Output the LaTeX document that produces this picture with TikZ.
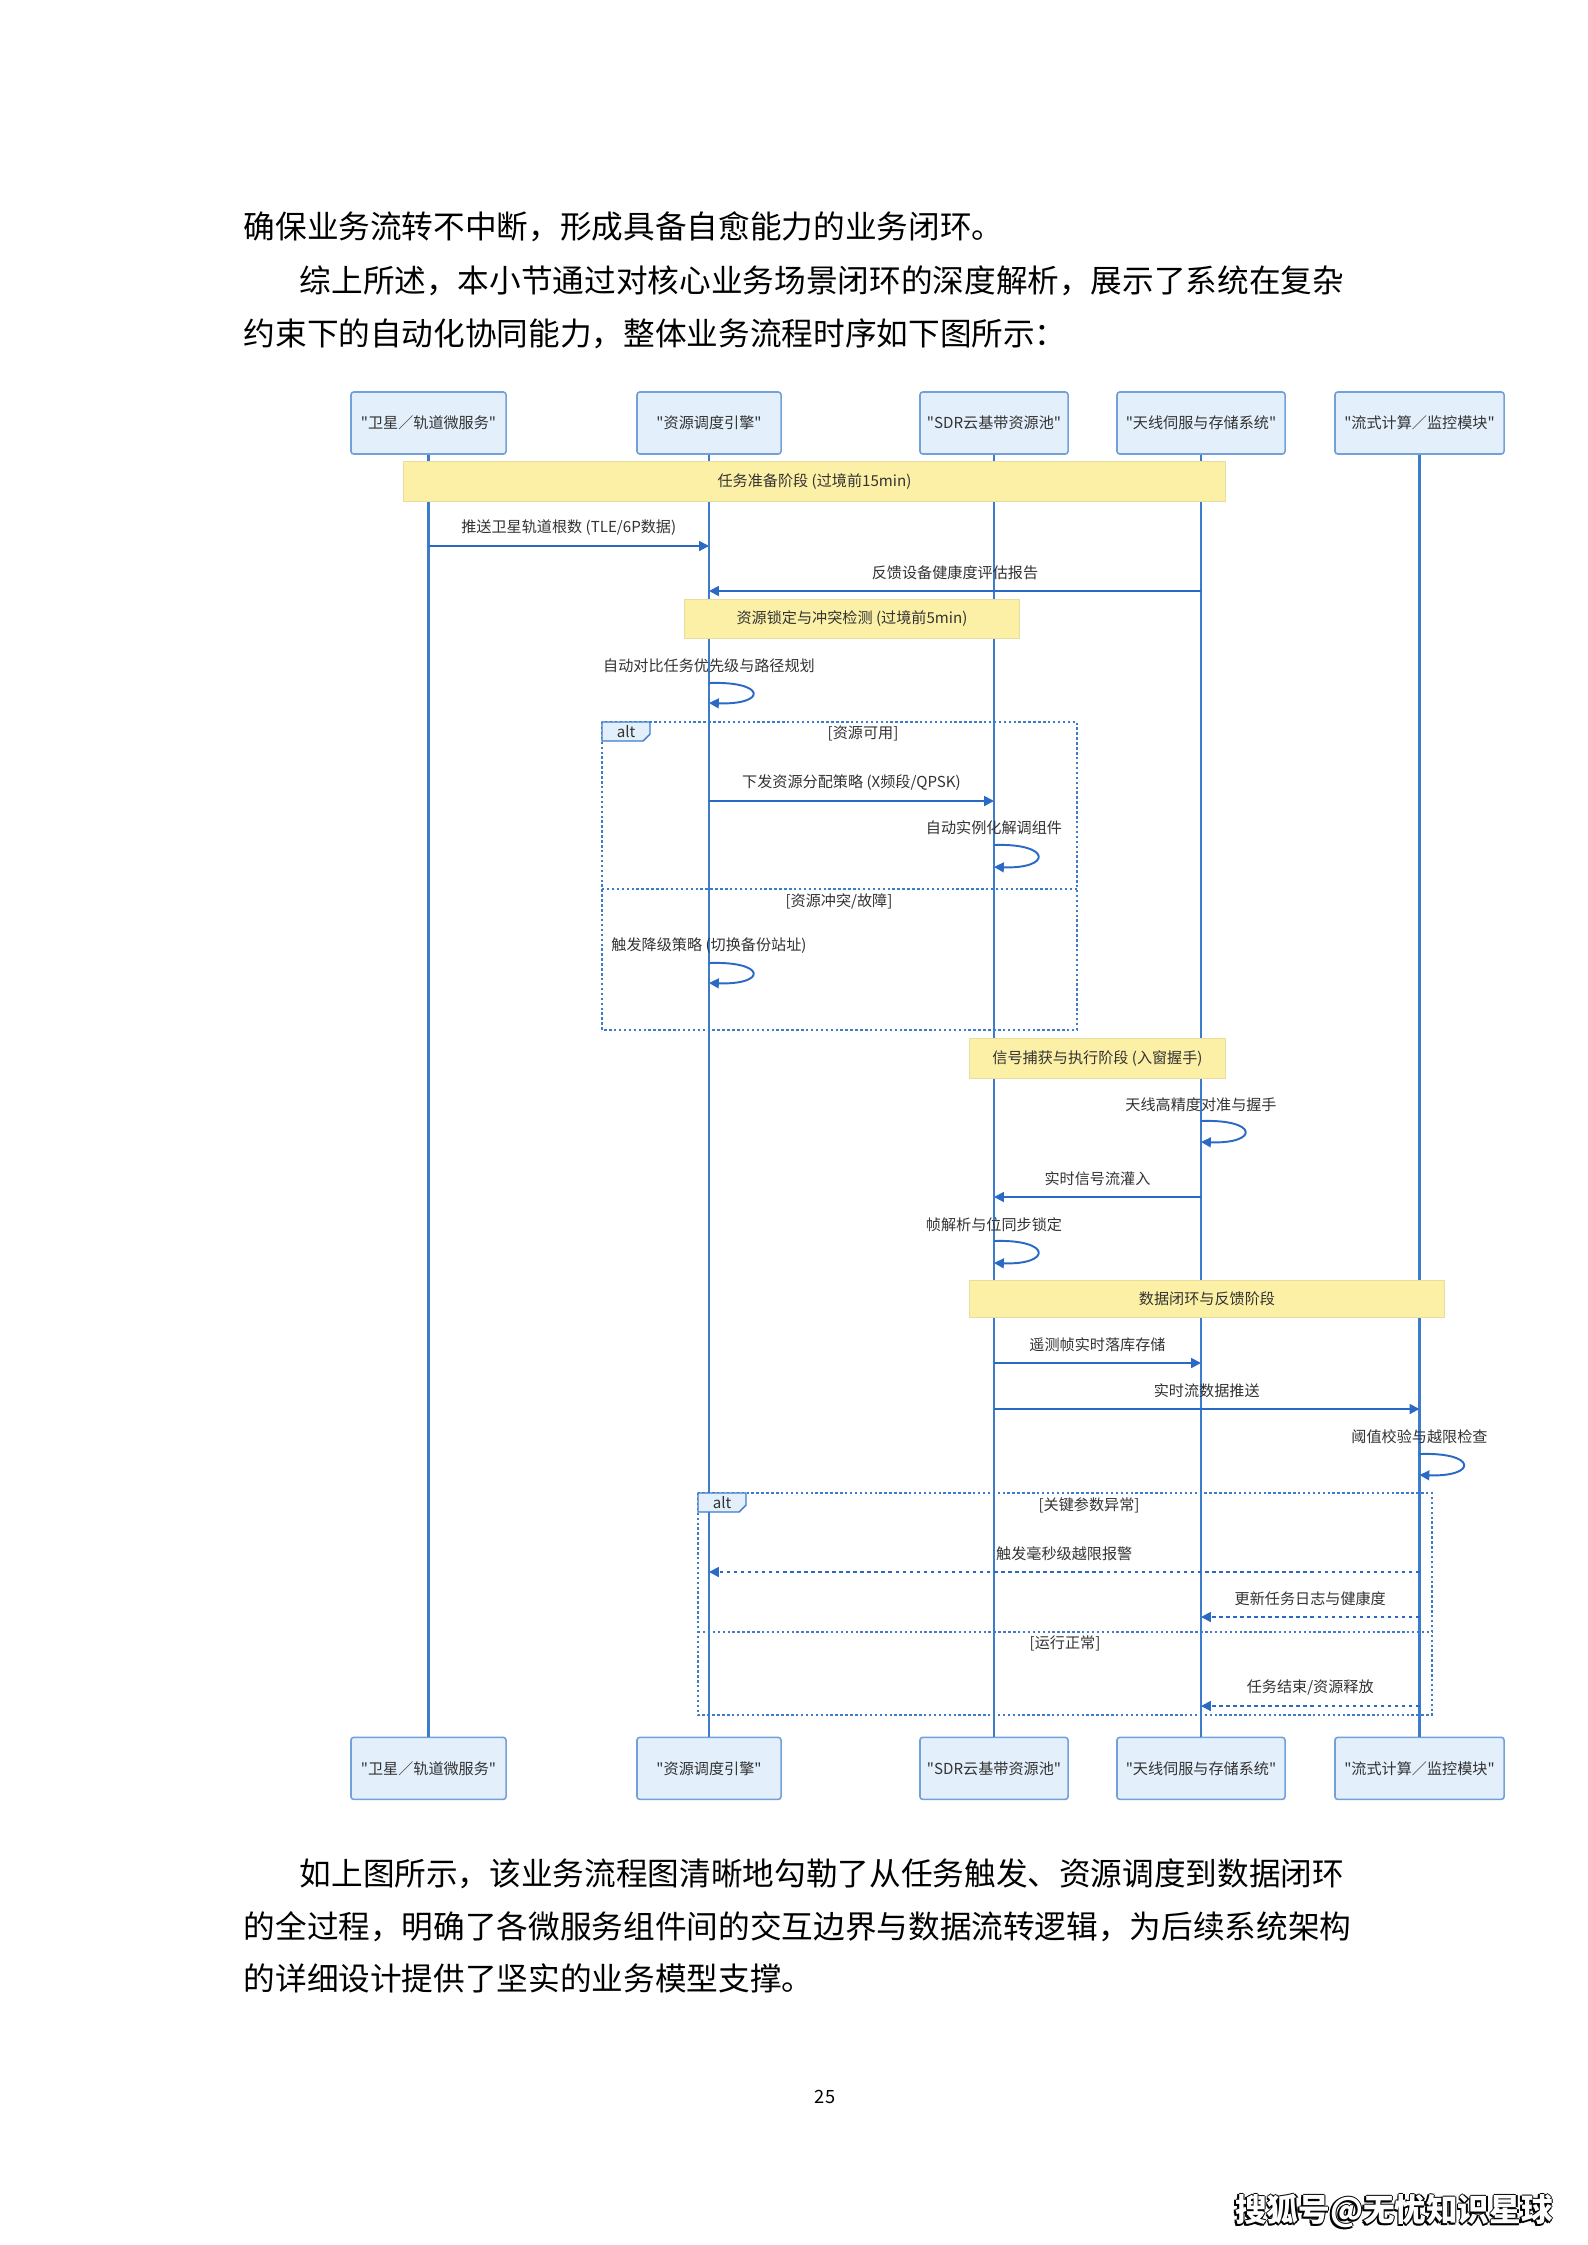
\documentclass[tikz,border=0pt]{standalone}
\usepackage{fontspec}
\setmainfont{Noto Sans CJK SC}
\usepackage{tikz}
\usetikzlibrary{arrows.meta, positioning}
\definecolor{lifeblue}{HTML}{3D7BCB}
\definecolor{arrowblue}{HTML}{2A6AC4}
\definecolor{boxfill}{HTML}{E3EFFB}
\definecolor{boxedge}{HTML}{72A0D8}
\definecolor{notefill}{HTML}{FCF0A6}
\definecolor{noteedge}{HTML}{E8DD9E}
\definecolor{ink}{HTML}{333333}
\newcommand{\diagfont}{\fontsize{4.3pt}{5pt}\selectfont}
\newcommand{\bodyfont}{\fontsize{9pt}{12pt}\selectfont}
\newcommand{\qt}[1]{\textquotedbl#1\textquotedbl}

\begin{document}
\begin{tikzpicture}[x=0.01cm, y=-0.01cm,
    actor/.style={draw=boxedge, fill=boxfill, rounded corners=0.8pt, line width=0.45pt,
                  minimum height=0.62cm, inner xsep=1pt, font=\diagfont, text=ink},
    note/.style={draw=noteedge, fill=notefill, line width=0.3pt, minimum height=0.37cm,
                 font=\diagfont, text=ink},
    life/.style={draw=lifeblue, line width=0.6pt},
    arr/.style={draw=arrowblue, line width=0.55pt, -{Triangle[length=2.8pt, width=2.8pt]}},
    rep/.style={arr, dash pattern=on 1pt off 1pt},
    lbl/.style={font=\diagfont, text=ink, inner sep=0pt},
    frame/.style={draw=lifeblue, line width=0.55pt, dash pattern=on 0.7pt off 0.7pt},
    tab/.style={draw=lifeblue, fill=boxfill, line width=0.4pt},
    txt/.style={font=\bodyfont, anchor=west, inner sep=0pt, text=black},
    sohu/.style={font=\fontsize{9pt}{10pt}\selectfont\bfseries, inner sep=0pt}
  ]
  \path[fill=white] (0,0) rectangle (1587,2245);

  % text above the figure
  \node[txt] (p1) at (243,227) {确保业务流转不中断，形成具备自愈能力的业务闭环。};
  \node[txt] (p2) at (299,281) {综上所述，本小节通过对核心业务场景闭环的深度解析，展示了系统在复杂};
  \node[txt] (p3) at (243,334) {约束下的自动化协同能力，整体业务流程时序如下图所示：};

  % participants
  \node[actor, minimum width=1.55cm] (sat)   at (428.5,423)  {\qt{卫星／轨道微服务}};
  \node[actor, minimum width=1.44cm] (sched) at (709,423)    {\qt{资源调度引擎}};
  \node[actor, minimum width=1.48cm] (sdr)   at (994,423)    {\qt{SDR云基带资源池}};
  \node[actor, minimum width=1.68cm] (ant)   at (1201,423)   {\qt{天线伺服与存储系统}};
  \node[actor, minimum width=1.69cm] (mon)   at (1419.5,423) {\qt{流式计算／监控模块}};
  \node[actor, minimum width=1.55cm, below=12.81cm of sat]   (satb)   {\qt{卫星／轨道微服务}};
  \node[actor, minimum width=1.44cm, below=12.81cm of sched] (schedb) {\qt{资源调度引擎}};
  \node[actor, minimum width=1.48cm, below=12.81cm of sdr]   (sdrb)   {\qt{SDR云基带资源池}};
  \node[actor, minimum width=1.68cm, below=12.81cm of ant]   (antb)   {\qt{天线伺服与存储系统}};
  \node[actor, minimum width=1.69cm, below=12.81cm of mon]   (monb)   {\qt{流式计算／监控模块}};

  \draw[life] (sat) -- (satb);
  \draw[life] (sched) -- (schedb);
  \draw[life] (sdr) -- (sdrb);
  \draw[life] (ant) -- (antb);
  \draw[life] (mon) -- (monb);

  % phase 1
  \node[note, minimum width=8.21cm] (ph1) at (814.5,481.5) {任务准备阶段 (过境前15min)};
  \draw[arr] (sat |- 0,546) -- node[lbl, midway, yshift=0.185cm] (m1) {推送卫星轨道根数 (TLE/6P数据)} (sched |- 0,546);
  \draw[arr] (ant |- 0,591) -- node[lbl, midway, yshift=0.185cm] (m2) {反馈设备健康度评估报告} (sched |- 0,591);
  \node[note, minimum width=3.34cm] (ph2) at (852,619) {资源锁定与冲突检测 (过境前5min)};
  \node[lbl] (s1) at (sched |- 0,666) {自动对比任务优先级与路径规划};
  \draw[arr] (sched |- 0,683) .. controls +(58,-2) and +(58,2) .. (sched |- 0,703);

  % alt: resources
  \draw[frame] (602,722) rectangle (1077,1030);
  \draw[tab] (602,722) -- (650,722) -- (650,734) -- (643,741) -- (602,741) -- cycle;
  \node[lbl] (alt1) at (626,732) {alt};
  \node[lbl] (g1) at (863,733) {[资源可用]};
  \draw[arr] (sched |- 0,801) -- node[lbl, midway, yshift=0.185cm] (m3) {下发资源分配策略 (X频段/QPSK)} (sdr |- 0,801);
  \node[lbl] (s2) at (sdr |- 0,828) {自动实例化解调组件};
  \draw[arr] (sdr |- 0,845) .. controls +(58,-2) and +(58,2) .. (sdr |- 0,867);
  \draw[frame] (602,889) -- (1077,889);
  \node[lbl] (g2) at (839,901) {[资源冲突/故障]};
  \node[lbl] (s3) at (sched |- 0,946) {触发降级策略 (切换备份站址)};
  \draw[arr] (sched |- 0,963) .. controls +(58,-2) and +(58,2) .. (sched |- 0,983);

  % phase 3
  \node[note, minimum width=2.55cm] (ph3) at (1097.5,1058.5) {信号捕获与执行阶段 (入窗握手)};
  \node[lbl] (s4) at (ant |- 0,1105) {天线高精度对准与握手};
  \draw[arr] (ant |- 0,1121) .. controls +(58,-2) and +(58,2) .. (ant |- 0,1142);
  \draw[arr] (ant |- 0,1197) -- node[lbl, midway, yshift=0.185cm] (m4) {实时信号流灌入} (sdr |- 0,1197);
  \node[lbl] (s5) at (sdr |- 0,1225) {帧解析与位同步锁定};
  \draw[arr] (sdr |- 0,1241) .. controls +(58,-2) and +(58,2) .. (sdr |- 0,1263);

  % phase 4
  \node[note, minimum width=4.74cm] (ph4) at (1207,1299) {数据闭环与反馈阶段};
  \draw[arr] (sdr |- 0,1363) -- node[lbl, midway, yshift=0.185cm] (m5) {遥测帧实时落库存储} (ant |- 0,1363);
  \draw[arr] (sdr |- 0,1409) -- node[lbl, midway, yshift=0.185cm] (m6) {实时流数据推送} (mon |- 0,1409);
  \node[lbl] (s6) at (mon |- 0,1437) {阈值校验与越限检查};
  \draw[arr] (mon |- 0,1454) .. controls +(58,-2) and +(58,2) .. (mon |- 0,1475);

  % alt: limits
  \draw[frame] (698,1493) rectangle (1432,1715);
  \draw[tab] (698,1493) -- (746,1493) -- (746,1505) -- (739,1512) -- (698,1512) -- cycle;
  \node[lbl] (alt2) at (722,1503) {alt};
  \node[lbl] (g3) at (1089,1505) {[关键参数异常]};
  \draw[rep] (mon |- 0,1572) -- node[lbl, midway, yshift=0.185cm] (r1) {触发毫秒级越限报警} (sched |- 0,1572);
  \draw[rep] (mon |- 0,1617) -- node[lbl, midway, yshift=0.185cm] (r2) {更新任务日志与健康度} (ant |- 0,1617);
  \draw[frame] (698,1632) -- (1432,1632);
  \node[lbl] (g4) at (1065,1643) {[运行正常]};
  \draw[rep] (mon |- 0,1706) -- node[lbl, midway, yshift=0.185cm] (r3) {任务结束/资源释放} (ant |- 0,1706);

  % text below the figure
  \node[txt] (p4) at (299,1874) {如上图所示，该业务流程图清晰地勾勒了从任务触发、资源调度到数据闭环};
  \node[txt] (p5) at (243,1927) {的全过程，明确了各微服务组件间的交互边界与数据流转逻辑，为后续系统架构};
  \node[txt] (p6) at (243,1978) {的详细设计提供了坚实的业务模型支撑。};
  \node[font=\fontsize{5.2pt}{6pt}\selectfont, inner sep=0pt] (pg) at (825,2097) {25};
  \foreach \dx/\dy [count=\i] in {-1.5/0, 1.5/0, 0/-1.5, 0/1.5, -1.5/1.5}
    \node[sohu, text=black] (sohu\i) at (1394+\dx,2211+\dy) {搜狐号@无忧知识星球};
  \node[sohu, text=white] (sohu) at (1394,2211) {搜狐号@无忧知识星球};
\end{tikzpicture}
\end{document}
